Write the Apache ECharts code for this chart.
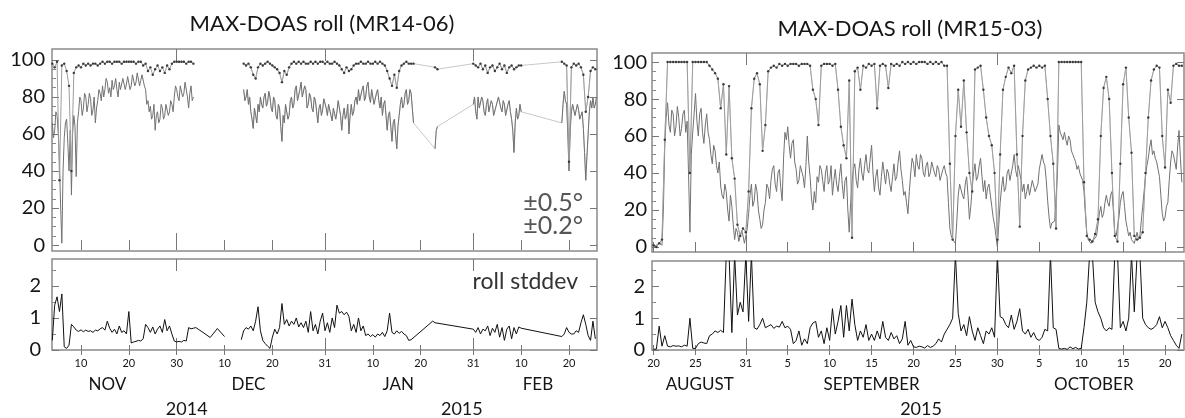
<!DOCTYPE html>
<html><head><meta charset="utf-8">
<script src="https://cdn.jsdelivr.net/npm/echarts@6/dist/echarts.min.js"></script>
<style>html,body{margin:0;padding:0;background:#fff}#c{width:1185px;height:418px}</style>
</head><body><div id="c"></div>
<script>
// ================= LEFT PANEL (MR14-06) =================
// x = day counter: Nov d = d, Dec d = 30+d, Jan d = 61+d, Feb d = 92+d
// upper series (within ±0.5°), step 0.5 day, one array per data stretch
const L_HI_1 = [98,96,99,35,97,98,94,86,40,93,96,97,
96,98,97,98,97,98,98,97,98,99,98,99,99,98,99,99,99,98,99,99,
99,99,99,98,99,99,97,98,94,96,92,95,97,94,96,93,97,95,98,99,
99,99,99,99,98,99,99,98];                       // from 4.0
const L_HI_2 = [98,97,98,96,92,90,96,98,97,98,99,98,97,96,95,93,88,94,92,96,
98,99,98,99,98,99,98,98,99,98,99,98,99,99,98,99,98,98,99,98,
97,95,93,96,94,95,97,98,98,99,98,98,99,98,98,99,98,99,98,97,
94,90,86,92,85,94,97,98,99,98,98,98];           // from 44.0
const L_HI_3 = [96,95];                             // from 84.0
const L_HI_4 = [98,97,96,98,95,97,93,96,97,94,96,98,95,97,93,96,97,95,96,97,97]; // from 92.0
const L_HI_5 = [99,98,97,45,96,98,97,98,96,92,72,80,94,96,95];                   // from 110.5
const L_HI_START = [4.0, 44.0, 84.0, 92.0, 110.5];
const L_HI_STEP = 0.5;

// lower series (within ±0.2°), step 0.25 day
const L_LO_1 = [66,58,62,72,70,60,45,20,1,40,58,66,68,55,40,62,27,60,70,64,37,66,72,80,
78,70,74,82,80,72,76,82,79,70,73,80,66,74,78,84,82,78,86,80,84,90,88,82,85,80,89,84,86,90,84,80,88,84,85,90,89,84,87,91,
90,84,86,92,91,86,88,93,92,86,89,92,91,86,84,76,78,72,75,68,70,76,62,70,72,66,68,76,74,68,70,76,75,70,72,78,76,72,80,86,
84,80,78,86,87,80,82,88,88,80,74,82,86,78,80];
const L_LO_2 = [84,78,80,84,76,80,72,68,63,74,70,66,76,72,80,76,74,80,82,75,77,83,80,74,72,80,78,70,68,76,74,64,56,70,66,76,75,68,70,78,
80,74,76,84,86,78,78,84,88,80,80,86,84,74,76,82,80,74,72,80,78,72,66,74,76,70,73,79,80,74,70,76,77,70,67,74,75,68,72,78,
78,70,62,70,74,68,70,76,60,70,76,70,72,78,80,76,84,78,78,84,86,78,80,86,88,80,77,84,83,76,76,82,84,78,74,80,70,76,78,70,
62,70,72,64,56,66,68,60,52,64,70,76,80,74,76,82,84,76,78,84,82,74,66];
const L_LO_3 = [52,62,64];
const L_LO_4 = [76,80,72,68,80,74,74,80,78,72,70,76,79,72,72,78,76,70,69,75,74,80,80,74,72,78,76,70,70,76,78,72,68,62,50,66,74,68,70,76,72];
const L_LO_5 = [66,76,83,78,76,60,40,62,72,76,75,70,70,76,73,68,68,72,63,50,35,48,60,72,78,74,80,74,76,80];
const L_LO_START = [4.0, 44.0, 84.0, 92.0, 110.5];
const L_LO_STEP = 0.25;

// roll stddev, step 0.5 day (second stretch is sparse: step 1.5)
const L_SD_1 = [0.3,1.4,1.66,1.2,1.75,0.1,0.05,0.15,0.8,0.72,0.62,0.58,
0.63,0.57,0.62,0.58,0.6,0.55,0.62,0.6,0.66,0.7,0.62,0.9,0.68,0.55,0.65,0.5,0.75,0.55,0.6,0.5,
1.2,0.22,0.25,0.27,0.3,0.28,0.35,0.8,0.7,0.55,0.72,0.5,0.65,0.75,0.55,0.95,0.6,0.75,0.5,0.28,
0.25,0.27,0.25,0.3,0.28,0.7,0.66,0.68,0.7,0.65];
const L_SD_2 = [0.55,0.39,0.67,0.42];
const L_SD_3 = [0.32,0.6,0.7,0.65,0.75,0.6,0.9,1.35,0.6,0.3,0.2,0.12,0.05,
0.4,0.65,0.5,0.7,1.45,0.8,0.95,0.75,0.9,0.8,1.0,0.72,0.85,0.7,0.9,0.55,1.2,0.6,0.8,0.5,
0.9,1.15,0.6,0.85,0.55,1.0,0.7,1.4,1.15,1.2,1.1,1.18,1.05,0.6,0.8,0.55,1.0,0.6,0.75,0.45,
0.5,0.42,0.48,0.4,0.5,0.45,0.55,0.42,0.6,1.15,0.55,0.5,0.6,0.52,0.58,0.5,0.45,0.3,0.32];
const L_SD_4 = [0.9,0.85];
const L_SD_5 = [0.65,0.55,0.7,0.5,0.65,0.6,0.75,0.45,0.68,0.55,0.8,0.4,0.7,0.3,0.65,0.75,0.35,0.7,0.5,0.72,0.68];
const L_SD_6 = [0.42,0.5,0.7,0.55,0.5,0.5,0.6,0.55,0.85,1.1,0.8,0.45,0.3,0.9,0.35];
const L_SD_START = [4.0, 35.5, 43.5, 83.5, 92.0, 110.5];
const L_SD_STEPS = [0.5, 1.5, 0.5, 0.5, 0.5, 0.5];
// number of stretches before the December gap (not joined by a line)
const L_TOP_BEFORE_GAP = 1, L_SD_BEFORE_GAP = 2;

const L_TICK_VALS = [10,20,30,40,50,61,71,81,92,102,112];
const L_TICK_TEXT = ['10','20','30','10','20','31','10','20','31','10','20'];
const L_MONTH_END = [30,61,92];
const L_MONTH_VALS = [15.5,45,76.3,105.5];
const L_MONTH_TEXT = ['NOV','DEC','JAN','FEB'];
const L_YEAR_VALS = [32.1,89.6];
const L_YEAR_TEXT = ['2014','2015'];

// ================= RIGHT PANEL (MR15-03) =================
// x = day counter: Aug d = d, Sep d = 31+d, Oct d = 61+d
const R_HI_STEP = 1/3, R_LO_STEP = 1/6, R_SD_STEP = 1/3, R_X0 = 20;
const R_HI = [
1,0,2, 4,58,100, 100,100,100, 100,100,100, 100,40,100, 100,100,100, 100,100,98, 96,94,91,
75,88,50, 87,48,37, 12,6,10, 8,30,75, 91,94,88, 52,66,95, 97,98,97, 99,98,99, 98,99,99, 99,98,99,
99,99,98, 85,80,66, 98,99,99, 99,98,99, 85,65,55, 48,90,5, 95,97,85, 98,97,99, 98,99,75, 98,99,98,
86,99,98, 99,98,100, 99,100,99, 100,99,100, 100,100,99, 100,99,100, 99,100,98, 98,45,4, 60,85,65,
90,62,40, 30,96,97, 98,85,70, 60,55,40, 4,50,85, 92,97,94, 98,50,11, 60,90,96, 97,98,97, 98,97,98,
80,60,45, 10,100,100, 100,100,100, 100,100,100, 100,35,6, 4,3,7, 15,60,86, 92,80,40, 6,3,45,
88,97,70, 51,6,4, 5,8,40, 70,90,96, 98,97,60, 43,85,78, 98,99,98, 98
];
const R_LO = [
0,1,1,0,2,1, 1,20,55,70,78,66, 62,74,72,60,65,76, 70,60,64,72,74,62, 68,40,8,50,62,72, 83,68,60,72,75,62,
56,66,72,62,58,50, 45,55,52,44,40,46, 33,28,26,34,30,20, 14,28,22,12,4,10, 8,3,2,9,6,2, 1,10,18,28,34,22,
25,34,30,20,15,10, 12,20,24,34,32,26, 36,42,44,34,30,40, 42,32,25,48,62,58, 65,55,48,56,58,46, 42,34,36,44,45,38,
32,44,60,46,38,26, 20,30,24,38,35,44, 42,36,30,40,44,34, 36,44,28,36,42,34, 30,38,45,34,26,36, 38,20,8,24,35,42,
45,36,32,42,48,40, 36,44,50,42,40,48, 55,40,30,38,42,32, 28,38,46,40,34,42, 40,34,30,38,45,36, 38,46,52,42,36,28,
30,24,18,30,40,48, 45,38,50,44,42,50, 48,40,38,44,46,38, 40,46,47,40,38,44, 42,36,35,42,44,40, 38,24,10,6,4,3,
2,14,28,34,35,28, 26,34,38,28,15,22, 32,40,45,36,38,44, 48,38,30,36,26,32, 34,28,22,16,12,6, 0,12,24,32,38,30,
32,40,42,36,36,44, 50,42,38,44,44,36, 30,34,26,30,34,28, 32,36,35,30,30,34, 42,46,50,46,44,36, 25,16,10,13,12,14,
13,40,66,62,60,58, 62,58,55,60,58,52, 50,48,46,42,44,40, 40,36,30,18,8,4, 3,2,2,4,4,6, 12,18,22,16,18,24,
28,24,22,28,30,20, 8,6,5,16,24,28, 30,22,14,10,6,8, 4,3,2,5,8,4, 6,14,22,30,38,44, 48,54,58,50,52,48,
46,42,38,28,18,14, 16,22,24,36,46,52, 50,46,42,54,63,48, 35
];
const R_SD = [
0.02,0.03,0.75, 0.12,0.45,0.12, 0.1,0.14,0.12, 0.13,0.1,0.15, 0.12,1.0,0.05, 0.05,0.2,0.25, 0.22,0.2,0.45,
0.5,0.6,0.55, 0.62,0.55,3.0, 3.0,0.55,3.0, 1.1,1.5,1.2, 3.0,0.9,3.0, 0.7,0.65,0.8, 1.0,0.7,0.75,
0.8,0.68,0.75, 0.72,0.9,0.7, 0.75,0.65,0.2, 0.3,0.6,0.15, 0.35,0.2,0.7, 0.85,0.9,0.4, 0.6,0.2,0.7,
0.3,1.3,0.5, 0.9,1.4,0.4, 1.4,0.6,1.6, 0.8,0.3,0.6, 0.4,0.8,0.3, 0.5,0.3,0.6, 0.35,0.9,0.4,
0.3,0.55,0.35, 0.45,0.2,0.35, 0.9,0.15,0.3, 0.1,0.08,0.12, 0.1,0.06,0.14, 0.08,0.12,0.2, 0.35,0.25,0.5,
0.65,0.8,1.0, 3.0,1.15,0.6, 0.8,0.45,1.05, 0.6,0.3,0.7, 0.45,0.2,0.6, 0.5,0.7,0.4, 3.0,1.05,1.0,
0.8,0.7,1.1, 0.65,0.9,1.3, 0.6,0.5,0.65, 0.4,0.55,0.35, 0.3,0.4,0.65, 0.6,3.0,0.7, 0.65,0.05,0.03,
0.05,0.02,0.1, 0.04,0.08,0.03, 0.05,0.7,1.5, 3.0,3.0,1.5, 1.2,1.0,0.7, 0.6,0.7,0.65, 3.0,3.0,0.7,
0.9,0.6,1.0, 3.0,1.2,3.0, 3.0,1.0,0.8, 0.7,0.65,0.7, 0.8,1.05,0.7, 0.9,0.7,0.45, 0.3,0.15,0.05, 0.5
];
const R_TICK_VALS = [20,25,31,36,41,46,51,56,61,66,71,76,81];
const R_TICK_TEXT = ['20','25','31','5','10','15','20','25','30','5','10','15','20'];
const R_MONTH_END = [31,61];
const R_MONTH_VALS = [25.5,46,72.5];
const R_MONTH_TEXT = ['AUGUST','SEPTEMBER','OCTOBER'];
const R_YEAR_VALS = [51.9];
const R_YEAR_TEXT = ['2015'];

const PCT_TICKS = [0,20,40,60,80,100];
const PCT_MINOR = [5,10,15,25,30,35,45,50,55,65,70,75,85,90,95];
const SD_TICKS = [0,1,2];
const SD_MINOR = [0.5,1.5,2.5];

// ================= BUILD =================
const FONT = 'Lato, "Open Sans", sans-serif';
const FRAME = '#8a8a8a';
const TXT = '#151515';
const LX = [3.94, 117.85], RX = [19.81, 83.26];

function seg(x0, step, vals){ return vals.map((v,i)=>[+(x0+i*step).toFixed(4), v]); }
function lookup(vals, texts){ return v => { const i = vals.findIndex(t=>Math.abs(t-v)<1e-6); return i<0?'':texts[i]; }; }

const grid = [
  {left:52, top:49, width:545, height:202},
  {left:52, top:259, width:545, height:92},
  {left:652, top:53, width:532, height:199},
  {left:652, top:261, width:532, height:91}
].map(g=>Object.assign({show:true, borderColor:FRAME, borderWidth:1.5, backgroundColor:'transparent'}, g));

const xAxis = [], yAxis = [];
function ax(o){ return Object.assign({type:'value', axisLine:{show:false}, splitLine:{show:false}, axisTick:{show:false}, axisLabel:{show:false}}, o); }
function tickAx(g, range, pos, vals, len){
  return ax({gridIndex:g, min:range[0], max:range[1], position:pos,
    axisTick:{show:true, inside:true, length:len, customValues:vals, lineStyle:{color:'#777', width:1}}});
}
function addX(g, range, T, ends, labels){
  const idx = xAxis.length;
  const main = tickAx(g, range, 'bottom', T.vals, 5);
  if (labels) main.axisLabel = {show:true, customValues:T.vals, formatter:lookup(T.vals,T.text), margin:8, fontSize:11, fontFamily:FONT, color:TXT};
  xAxis.push(main);
  xAxis.push(tickAx(g, range, 'top', T.vals, 5));
  xAxis.push(tickAx(g, range, 'bottom', ends, 12));
  xAxis.push(tickAx(g, range, 'top', ends, 12));
  if (labels){
    xAxis.push(ax({gridIndex:g, min:range[0], max:range[1], position:'bottom',
      axisLabel:{show:true, customValues:labels.mv, formatter:lookup(labels.mv,labels.mt), margin:26, fontSize:17, fontFamily:FONT, color:TXT}}));
    xAxis.push(ax({gridIndex:g, min:range[0], max:range[1], position:'bottom',
      axisLabel:{show:true, customValues:labels.yv, formatter:lookup(labels.yv,labels.yt), margin:50, fontSize:18, fontFamily:FONT, color:TXT}}));
  }
  return idx;
}
function addY(g, min, max, major, minor, margin){
  const idx = yAxis.length;
  yAxis.push(ax({gridIndex:g, min, max, position:'left',
    axisTick:{show:true, inside:true, length:7, customValues:major, lineStyle:{color:'#777'}},
    axisLabel:{show:true, customValues:major, margin, fontSize:20, fontFamily:FONT, color:TXT}}));
  yAxis.push(ax({gridIndex:g, min, max, position:'left',
    axisTick:{show:true, inside:true, length:4, customValues:minor, lineStyle:{color:'#888'}}}));
  yAxis.push(ax({gridIndex:g, min, max, position:'right',
    axisTick:{show:true, inside:true, length:7, customValues:major, lineStyle:{color:'#777'}}}));
  return idx;
}

const LT = {vals:L_TICK_VALS, text:L_TICK_TEXT}, RT = {vals:R_TICK_VALS, text:R_TICK_TEXT};
const x0 = addX(0, LX, LT, L_MONTH_END, null);
const x1 = addX(1, LX, LT, L_MONTH_END, {mv:L_MONTH_VALS, mt:L_MONTH_TEXT, yv:L_YEAR_VALS, yt:L_YEAR_TEXT});
const x2 = addX(2, RX, RT, R_MONTH_END, null);
const x3 = addX(3, RX, RT, R_MONTH_END, {mv:R_MONTH_VALS, mt:R_MONTH_TEXT, yv:R_YEAR_VALS, yt:R_YEAR_TEXT});
const y0 = addY(0, -3.2, 105.9, PCT_TICKS, PCT_MINOR, 7);
const y1 = addY(1, 0, 2.84, SD_TICKS, SD_MINOR, 11);
const y2 = addY(2, -2.7, 104.9, PCT_TICKS, PCT_MINOR, 5);
const y3 = addY(3, 0, 2.8, SD_TICKS, SD_MINOR, 7);

const series = [];
function line(xi, yi, data, o){
  series.push(Object.assign({type:'line', xAxisIndex:xi, yAxisIndex:yi, data, symbol:'none', silent:true,
    animation:false, emphasis:{disabled:true}, clip:true}, o));
}
const BRIDGE = {lineStyle:{color:'#c8c8c8', width:1}, z:1};
const HI_STYLE = {lineStyle:{color:'#9d9d9d', width:1}, symbol:'circle', symbolSize:2.4, showSymbol:true, itemStyle:{color:'#3a3a3a'}, z:4};
const LO_STYLE = {lineStyle:{color:'#717171', width:1}, z:3};
const SD_STYLE = {lineStyle:{color:'#111', width:1}, z:3};

// stretches -> series; light joining line across gaps except the December gap
function stretches(xi, yi, segs, before, style, bridge){
  const groups = before > 0 ? [segs.slice(0, before), segs.slice(before)] : [segs];
  groups.forEach(gr => {
    if (bridge && gr.length > 1) line(xi, yi, [].concat(...gr), bridge);
    if (bridge) gr.forEach(s => line(xi, yi, s, style));
    else line(xi, yi, [].concat(...gr), style);
  });
}
const L_HI_SEGS = [L_HI_1,L_HI_2,L_HI_3,L_HI_4,L_HI_5].map((a,i)=>seg(L_HI_START[i], L_HI_STEP, a));
const L_LO_SEGS = [L_LO_1,L_LO_2,L_LO_3,L_LO_4,L_LO_5].map((a,i)=>seg(L_LO_START[i], L_LO_STEP, a));
const L_SD_SEGS = [L_SD_1,L_SD_2,L_SD_3,L_SD_4,L_SD_5,L_SD_6].map((a,i)=>seg(L_SD_START[i], L_SD_STEPS[i], a));
stretches(x0, y0, L_LO_SEGS, L_TOP_BEFORE_GAP, LO_STYLE, BRIDGE);
stretches(x0, y0, L_HI_SEGS, L_TOP_BEFORE_GAP, HI_STYLE, BRIDGE);
stretches(x1, y1, L_SD_SEGS, L_SD_BEFORE_GAP, SD_STYLE, null);
line(x2, y2, seg(R_X0, R_LO_STEP, R_LO), LO_STYLE);
line(x2, y2, seg(R_X0, R_HI_STEP, R_HI), BRIDGE);
line(x2, y2, seg(R_X0, R_HI_STEP, R_HI), HI_STYLE);
line(x3, y3, seg(R_X0, R_SD_STEP, R_SD), SD_STYLE);

function txt(x, y, text, size, color, align){
  return {type:'text', silent:true, z:10, style:{x, y, text, fontSize:size, fontFamily:FONT, fill:color,
    align, verticalAlign:'middle', textAlign:align, textVerticalAlign:'middle'}};
}

const chart = echarts.init(document.getElementById('c'), null, {renderer:'canvas'});
chart.setOption({
  animation:false,
  grid, xAxis, yAxis, series,
  graphic:[
    txt(322, 23.5, 'MAX-DOAS roll (MR14-06)', 22, TXT, 'center'),
    txt(910, 28.5, 'MAX-DOAS roll (MR15-03)', 22, TXT, 'center'),
    txt(583, 203, '\u00b10.5\u00b0', 25, '#555', 'right'),
    txt(583, 226, '\u00b10.2\u00b0', 25, '#555', 'right'),
    txt(578, 282, 'roll stddev', 23, '#333', 'right')
  ]
});
</script></body></html>
